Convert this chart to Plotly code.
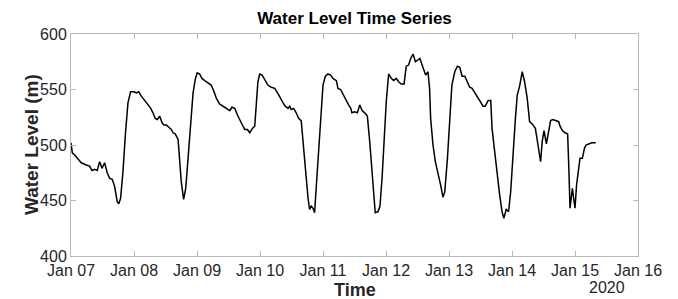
import datetime as dt
import plotly.graph_objects as go

# hours since 2020-01-07 00:00
hours = [0.0, 0.5, 1.4, 2.7, 3.9, 5.8, 7.1, 8.0, 9.0, 10.0, 10.9, 11.8, 12.8, 13.8, 14.7, 15.7, 16.6, 17.6, 18.2, 18.9,
         19.8, 20.7, 21.7, 22.7, 24.0, 24.9, 25.8, 26.8, 28.1, 29.3, 30.4, 31.2, 32.1, 32.9, 33.8, 34.7, 35.4, 36.3, 37.2, 38.2,
         38.9, 39.7, 40.8, 41.4, 42.0, 42.9, 43.7, 44.6, 45.6, 46.5, 47.4, 48.1, 49.0, 49.9, 51.5, 52.2, 53.4, 54.5, 55.4, 56.6,
         57.9, 59.2, 60.5, 61.3, 62.4, 63.4, 64.3, 65.3, 66.2, 67.2, 68.1, 69.1, 70.0, 70.6, 71.2, 71.9, 72.8, 73.8, 75.0, 76.3,
         77.6, 78.9, 79.9, 80.8, 81.6, 82.7, 83.3, 83.9, 84.8, 85.8, 86.7, 87.7, 88.4, 89.3, 90.3, 90.9, 91.5, 92.2, 92.8, 93.4,
         94.4, 95.4, 96.0, 96.9, 97.9, 98.9, 99.8, 101.1, 101.7, 102.7, 103.6, 104.9, 105.8, 106.6, 107.0, 108.1, 109.1, 110.0, 110.9, 111.9,
         112.9, 113.8, 114.4, 115.0, 115.9, 117.0, 117.7, 118.5, 119.2, 120.1, 121.0, 122.0, 122.9, 123.9, 124.8, 125.8, 126.9, 127.7, 128.6, 129.4,
         130.3, 131.2, 132.9, 134.2, 135.1, 136.0, 136.6, 137.0, 137.9, 138.8, 139.8, 140.8, 141.7, 142.4, 143.4, 144.3, 145.1, 146.2, 147.2, 148.1,
         149.0, 150.0, 151.0, 151.9, 152.8, 153.8, 154.8, 155.7, 157.0, 157.8, 158.9, 159.9, 160.4, 161.4, 162.4, 163.3, 164.2, 164.9, 165.8, 166.7,
         167.5, 168.4, 169.3, 170.0, 170.9, 171.9, 172.8, 173.8, 174.7, 175.7, 176.9, 177.9, 178.9, 179.5, 180.2, 181.1, 182.0, 182.7, 183.6, 184.9,
         185.8, 186.3, 187.2, 188.2, 189.2, 189.7, 190.1, 191.0, 192.0, 192.6, 193.3, 193.9, 194.8, 195.6, 196.2, 197.1, 198.4, 199.9]

water_level = [502, 493, 491, 487, 484, 482, 481, 477, 478, 477, 485, 479, 484, 475, 470, 469, 463, 449, 447, 452,
               476, 509, 538, 548, 548, 547, 548, 544, 540, 537, 533, 529, 524, 523, 526, 520, 518, 518, 516, 514,
               511, 510, 505, 488, 467, 451, 461, 488, 521, 547, 560, 565, 564, 560, 557, 556, 554, 548, 542, 537,
               535, 533, 531, 534, 533, 527, 522, 518, 514, 514, 511, 515, 517, 536, 557, 564, 563, 559, 554, 552,
               551, 546, 541, 538, 535, 533, 535, 532, 533, 529, 524, 522, 503, 476, 452, 442, 445, 443, 439, 461,
               500, 536, 554, 562, 564, 563, 560, 558, 551, 550, 546, 539, 536, 533, 529, 530, 529, 536, 531, 529,
               526, 503, 485, 470, 439, 440, 445, 470, 503, 539, 564, 560, 558, 560, 557, 555, 555, 571, 572, 578,
               582, 575, 578, 568, 563, 566, 551, 524, 500, 485, 475, 464, 453, 458, 488, 524, 554, 566, 571, 570,
               562, 562, 557, 552, 551, 547, 543, 539, 535, 535, 540, 540, 515, 494, 470, 455, 440, 434, 442, 440,
               458, 494, 524, 545, 553, 566, 557, 542, 521, 519, 515, 500, 485, 503, 513, 501, 512, 522, 523, 522,
               521, 517, 513, 511, 510, 476, 443, 461, 443, 464, 479, 488, 488, 497, 500, 501, 502, 502]

tick_dates = ["2020-01-07", "2020-01-08", "2020-01-09", "2020-01-10", "2020-01-11",
              "2020-01-12", "2020-01-13", "2020-01-14", "2020-01-15", "2020-01-16"]
tick_labels = ["Jan 07", "Jan 08", "Jan 09", "Jan 10", "Jan 11",
               "Jan 12", "Jan 13", "Jan 14", "Jan 15", "Jan 16"]
y_ticks = [400, 450, 500, 550, 600]

start = dt.datetime(2020, 1, 7)
times = [start + dt.timedelta(hours=h) for h in hours]

FONT = "Liberation Sans, Arial, sans-serif"
AX = "#b8b8b8"
TXT = "#262626"

# the page body adds an 8px margin, so the figure is drawn 8px smaller
W, H = 670, 291

fig = go.Figure(go.Scatter(x=times, y=water_level, mode="lines",
                           line=dict(color="black", width=1.5)))

fig.update_layout(
    width=W, height=H,
    margin=dict(l=63, r=40, t=26, b=42.5, autoexpand=False),
    paper_bgcolor="white", plot_bgcolor="white",
    showlegend=False,
    font=dict(family=FONT, color=TXT, size=16),
    title=dict(text="<b>Water Level Time Series</b>", x=0.5, xref="paper", xanchor="center",
               y=1 - 10 / H, yref="container", yanchor="middle",
               font=dict(size=17, color="black", family=FONT)),
)
fig.update_xaxes(
    type="date", range=["2020-01-07", "2020-01-16"],
    tickvals=tick_dates, ticktext=tick_labels,
    ticks="inside", ticklen=5, tickcolor=AX, tickwidth=1,
    showline=True, linecolor=AX, linewidth=1, mirror="ticks",
    showgrid=False, zeroline=False, automargin=False,
    tickfont=dict(size=16, color=TXT),
)
fig.update_yaxes(
    range=[400, 600], tickvals=y_ticks,
    ticks="inside", ticklen=5, tickcolor=AX, tickwidth=1,
    showline=True, linecolor=AX, linewidth=1, mirror="ticks",
    showgrid=False, zeroline=False, automargin=False,
    tickfont=dict(size=16, color=TXT),
)
fig.add_annotation(text="<b>Time</b>", xref="paper", yref="paper", x=0.5, y=-0.152,
                   xanchor="center", yanchor="middle", showarrow=False,
                   font=dict(size=18, color=TXT, family=FONT))
fig.add_annotation(text="<b>Water Level (m)</b>", xref="paper", yref="paper", x=-0.0705, y=0.5,
                   xanchor="center", yanchor="middle", textangle=-90, showarrow=False,
                   font=dict(size=19, color=TXT, family=FONT))
fig.add_annotation(text="2020", xref="paper", yref="paper", x=0.945, y=-0.142,
                   xanchor="center", yanchor="middle", showarrow=False,
                   font=dict(size=16, color=TXT, family=FONT))

fig.write_html("out.html")
